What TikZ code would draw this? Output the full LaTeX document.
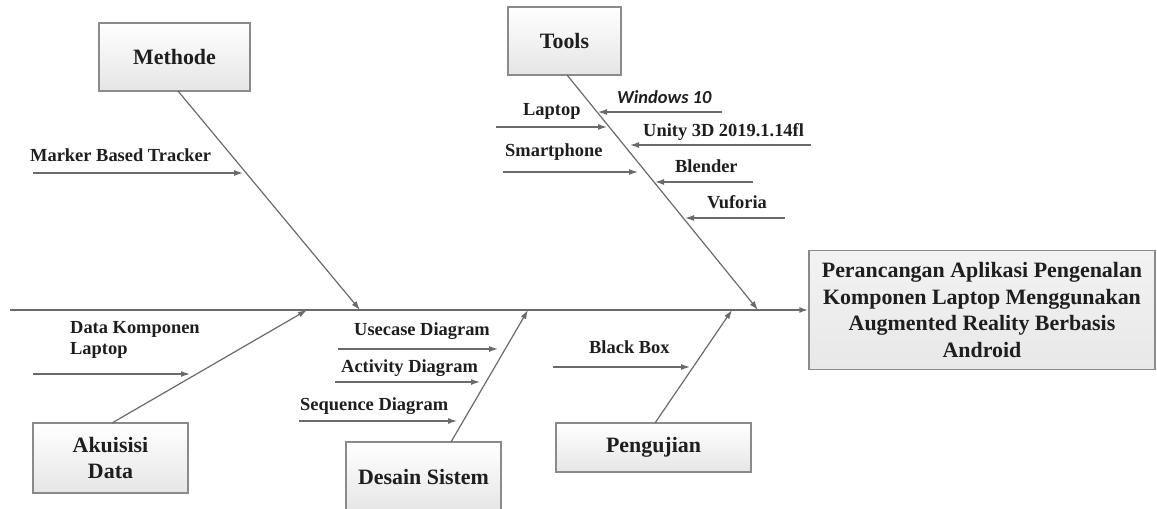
\documentclass[tikz,border=0pt]{standalone}
\usepackage{fontspec}
\setmainfont{Liberation Serif}
\newfontfamily\winfont{Carlito}
\usetikzlibrary{arrows.meta,calc}
\definecolor{linegray}{HTML}{6A6A6A}
\definecolor{boxline}{HTML}{8A8A8A}
\definecolor{txt}{HTML}{1E1E1E}
\tikzset{
  catbox/.style={draw=boxline, line width=1.4bp, top color=white, bottom color=black!10,
    text=txt, font=\bfseries\fontsize{22}{27}\selectfont, align=center, inner sep=0pt},
  lbl/.style={font=\bfseries\fontsize{18.5}{22}\selectfont, text=txt, inner sep=0pt, anchor=base west},
  tip/.style={-{Latex[length=9bp,width=6bp]}},
  bone/.style={draw=linegray, line width=1.2bp, tip},
  sub/.style={draw=linegray, line width=1.2bp, tip},
  spine/.style={draw=linegray, line width=1.8bp, tip},
}
\begin{document}
\begin{tikzpicture}[x=1bp,y=-1bp]
\useasboundingbox (0,0) rectangle (1157,509);
% boxes
\node[catbox, minimum width=151bp, minimum height=68bp] (methode) at (174.5,57) {Methode};
\node[catbox, minimum width=113bp, minimum height=68bp] (tools) at (564.5,41) {Tools};
\node[catbox, minimum width=155bp, minimum height=70bp] (akuisisi) at (110.5,458) {Akuisisi\\Data};
\node[catbox, minimum width=155bp, minimum height=70bp] (desain) at (423.5,477) {Desain Sistem};
\node[catbox, minimum width=195bp, minimum height=49bp] (pengujian) at (653.5,447.5) {Pengujian};
\node[catbox, minimum width=346bp, minimum height=119bp, top color=black!5, bottom color=black!9] (goal) at (982,310)
  {Perancangan Aplikasi Pengenalan\\Komponen Laptop Menggunakan\\Augmented Reality Berbasis\\Android};
% spine
\coordinate (s0) at (10,310);
\draw[spine] (s0) -- (goal.west);
% bone ends on spine
\coordinate (mS) at (360,310);
\coordinate (tS) at (758,310);
\coordinate (aS) at (307,310);
\coordinate (dS) at (528,310);
\coordinate (pS) at (732,310);
\coordinate (mB) at (178,91);
\coordinate (tB) at (567,75);
\coordinate (aB) at (112,423);
\coordinate (dB) at (451,442);
\coordinate (pB) at (655,423);
\draw[bone] (mB) -- (mS);
\draw[bone] (tB) -- (tS);
\draw[bone] (aB) -- (aS);
\draw[bone] (dB) -- (dS);
\draw[bone] (pB) -- (pS);
% Methode causes
\coordinate (mk0) at (33,173); \coordinate (mk1) at (243,173);
\draw[sub] (mk0) -- (mk1);
\node[lbl] (mkL) at (30,162) {Marker Based Tracker};
% Tools causes
\coordinate (w0) at (722,112); \coordinate (w1) at (598,112);
\draw[sub] (w0) -- (w1);
\node[lbl, font=\winfont\bfseries\itshape\fontsize{18.5}{22}\selectfont] (wL) at (617,104) {Windows 10};
\coordinate (l0) at (496,127); \coordinate (l1) at (607,127);
\draw[sub] (l0) -- (l1);
\node[lbl] (lL) at (523,116) {Laptop};
\coordinate (u0) at (811,145); \coordinate (u1) at (630,145);
\draw[sub] (u0) -- (u1);
\node[lbl] (uL) at (643,137) {Unity 3D 2019.1.14fl};
\coordinate (sp0) at (503,172); \coordinate (sp1) at (638,172);
\draw[sub] (sp0) -- (sp1);
\node[lbl] (spL) at (505,157) {Smartphone};
\coordinate (b0) at (753,182); \coordinate (b1) at (655,182);
\draw[sub] (b0) -- (b1);
\node[lbl] (bL) at (675,173) {Blender};
\coordinate (v0) at (785,218); \coordinate (v1) at (685,218);
\draw[sub] (v0) -- (v1);
\node[lbl] (vL) at (707,209) {Vuforia};
% Akuisisi causes
\coordinate (dk0) at (33,374); \coordinate (dk1) at (190,374);
\draw[sub] (dk0) -- (dk1);
\node[lbl, align=left] (dkL) at (70,355) {Data Komponen\\Laptop};
% Desain causes
\coordinate (uc0) at (338,349); \coordinate (uc1) at (498,349);
\draw[sub] (uc0) -- (uc1);
\node[lbl] (ucL) at (354,336) {Usecase Diagram};
\coordinate (ac0) at (335,382); \coordinate (ac1) at (480,382);
\draw[sub] (ac0) -- (ac1);
\node[lbl] (acL) at (341,373) {Activity Diagram};
\coordinate (sq0) at (299,421); \coordinate (sq1) at (457,421);
\draw[sub] (sq0) -- (sq1);
\node[lbl] (sqL) at (300,410) {Sequence Diagram};
% Pengujian causes
\coordinate (bb0) at (553,367); \coordinate (bb1) at (690,367);
\draw[sub] (bb0) -- (bb1);
\node[lbl] (bbL) at (589,354) {Black Box};
\end{tikzpicture}
\end{document}
